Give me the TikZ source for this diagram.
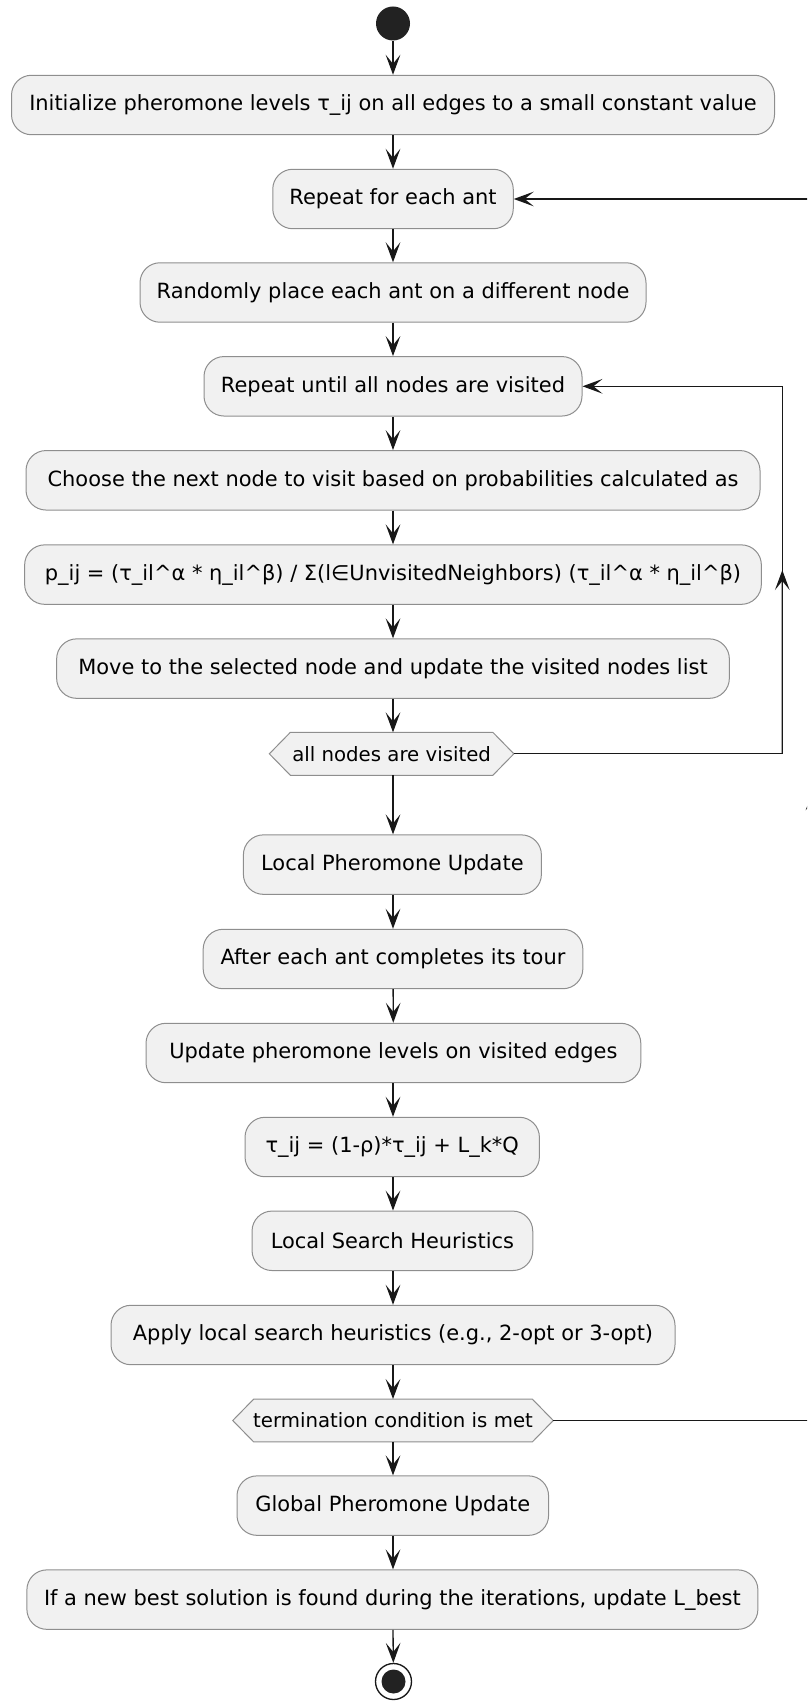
\documentclass[tikz,border=0pt]{standalone}
\usepackage{fontspec}
\setmainfont{DejaVu Sans}
\usetikzlibrary{arrows.meta,calc,backgrounds}
\definecolor{boxfill}{HTML}{F1F1F1}
\definecolor{boxline}{HTML}{8E8E8E}
\definecolor{ink}{HTML}{181818}
\definecolor{dot}{HTML}{222222}
\begin{document}
\begin{tikzpicture}[x=0.75pt,y=-0.75pt,
  actbox/.style={draw=boxline, fill=boxfill, line width=0.75pt, rounded corners=15pt,
    minimum height=44.6pt, inner sep=0pt, font=\fontsize{15.7pt}{19pt}\selectfont, text=black},
  hexbox/.style={minimum height=31.8pt, inner sep=0pt, font=\fontsize{14.8pt}{18pt}\selectfont, text=black},
  hexline/.style={draw=boxline, fill=boxfill, line width=0.75pt},
  flow/.style={draw=ink, line width=1pt, -{Stealth[length=15pt,width=11pt,inset=6.8pt]}},
  ]
\useasboundingbox (0,0) rectangle (807,1701);
\clip (0,0) rectangle (807,1701);

\node[circle, fill=dot, minimum size=34*0.75pt, inner sep=0pt] (start) at (393,23.5) {};
\node[actbox, minimum width=763*0.75pt] (init) at (393,105) {Initialize pheromone levels τ\textunderscore ij on all edges to a small constant value};
\node[actbox, minimum width=240.5*0.75pt] (repant) at (393,199) {Repeat for each ant};
\node[actbox, minimum width=506*0.75pt] (rand) at (393,292.5) {Randomly place each ant on a different node};
\node[actbox, minimum width=378*0.75pt] (repnodes) at (393,386.3) {Repeat until all nodes are visited};
\node[actbox, minimum width=734*0.75pt] (choose) at (393,480.3) {Choose the next node to visit based on probabilities calculated as};
\node[actbox, minimum width=736.7*0.75pt] (pij) at (393,574.6) {p\textunderscore ij = (τ\textunderscore il\textasciicircum α * η\textunderscore il\textasciicircum β) / Σ(l∈UnvisitedNeighbors) (τ\textunderscore il\textasciicircum α * η\textunderscore il\textasciicircum β)};
\node[actbox, minimum width=672.7*0.75pt] (move) at (393,668.6) {Move to the selected node and update the visited nodes list};
\node[hexbox, minimum width=244*0.75pt] (hexa) at (391.6,753.8) {all nodes are visited};
\node[actbox, minimum width=298*0.75pt] (local) at (392.4,864.6) {Local Pheromone Update};
\node[actbox, minimum width=379.7*0.75pt] (after) at (393,959) {After each ant completes its tour};
\node[actbox, minimum width=494.8*0.75pt] (update) at (393.4,1053) {Update pheromone levels on visited edges};
\node[actbox, minimum width=294.4*0.75pt] (tau) at (392.2,1147) {τ\textunderscore ij = (1-ρ)*τ\textunderscore ij + L\textunderscore k*Q};
\node[actbox, minimum width=280.7*0.75pt] (lsh) at (392.4,1240.8) {Local Search Heuristics};
\node[actbox, minimum width=564*0.75pt] (apply) at (393,1335) {Apply local search heuristics (e.g., 2-opt or 3-opt)};
\node[hexbox, minimum width=320*0.75pt] (hexb) at (393,1420.5) {termination condition is met};
\node[actbox, minimum width=311.6*0.75pt] (global) at (392.8,1505.6) {Global Pheromone Update};
\node[actbox, minimum width=731*0.75pt] (best) at (392.4,1599.6) {If a new best solution is found during the iterations, update L\textunderscore best};
\node[circle, draw=ink, line width=1pt, fill=white, minimum size=36*0.75pt, inner sep=0pt] (stop) at (393.5,1681.5) {};
\node[circle, fill=dot, minimum size=24*0.75pt, inner sep=0pt] (stopdot) at (stop.center) {};

\begin{scope}[on background layer]
  \foreach \h in {hexa,hexb} {
    \draw[hexline] ($(\h.north west)+(21,0)$) -- ($(\h.north east)+(-21,0)$) -- (\h.east)
      -- ($(\h.south east)+(-21,0)$) -- ($(\h.south west)+(21,0)$) -- (\h.west) -- cycle;
  }
\end{scope}

\draw[flow] (start) -- (init);
\draw[flow] (init) -- (repant);
\draw[flow] (repant) -- (rand);
\draw[flow] (rand) -- (repnodes);
\draw[flow] (repnodes) -- (choose);
\draw[flow] (choose) -- (pij);
\draw[flow] (pij) -- (move);
\draw[flow] (move.south) -- (hexa.north -| move.south);
\draw[flow] (hexa.south -| move.south) -- (local.north -| move.south);
\draw[flow] (local.south -| move.south) -- (after.north -| move.south);
\draw[flow] (after) -- (update);
\draw[flow] (update.south -| after.south) -- (tau.north -| after.south);
\draw[flow] (tau.south -| after.south) -- (lsh.north -| after.south);
\draw[flow] (lsh.south -| after.south) -- (apply.north -| after.south);
\draw[flow] (apply) -- (hexb);
\draw[flow] (hexb) -- (global.north -| hexb.south);
\draw[flow] (global.south -| hexb.south) -- (best.north -| hexb.south);
\draw[flow] (best.south -| hexb.south) -- (stop);

\coordinate (ia) at (782.3,753.8);
\coordinate (ib) at (782.3,386.3);
\draw[flow] (hexa.east) -- (ia) -- (ib) -- (repnodes.east);
\draw[flow] (ia) -- ($(ia)!0.5!(ib)$);

\coordinate (oa) at (813,1420.5);
\coordinate (ob) at (813,199);
\draw[flow] (hexb.east) -- (oa) -- (ob) -- (repant.east);
\draw[flow] (oa) -- ($(oa)!0.516!(ob)$);
\end{tikzpicture}
\end{document}
